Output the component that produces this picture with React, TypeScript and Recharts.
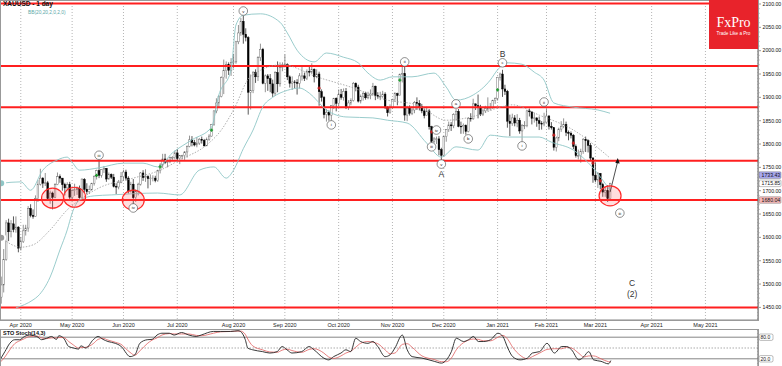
import React from 'react';
import { ComposedChart, Bar, Line, XAxis, YAxis, CartesianGrid, ReferenceLine, ReferenceDot } from 'recharts';

// XAUUSD daily, 20 Mar 2020 .. 9 Mar 2021 (one entry per trading day)
const opens = [
  1472, 1498, 1553, 1631, 1612, 1629, 1617, 1622,
  1577, 1591, 1614, 1620, 1662, 1647, 1645, 1683, 1714, 1727, 1716, 1717, 1683, 1695, 1686, 1713, 1730, 1727, 1713, 1706, 1713,
  1686, 1700, 1702, 1705, 1685, 1724, 1703, 1698, 1702, 1716, 1731, 1743, 1733, 1745, 1748, 1725, 1735, 1729, 1709, 1708, 1718,
  1730, 1740, 1727, 1699, 1714, 1685, 1698, 1714, 1738, 1728, 1730, 1726, 1727, 1727, 1722, 1743, 1755, 1768, 1761, 1763, 1771, 1771,
  1781, 1769, 1775, 1775, 1783, 1795, 1809, 1803, 1798, 1802, 1810, 1808, 1796, 1810, 1817, 1842, 1871, 1888, 1902, 1942, 1957, 1970, 1958,
  1975, 1976, 2019, 2038, 2063, 2035, 2028, 1911, 1915, 1954, 1944, 1985, 2003, 1930, 1946, 1940, 1929, 1909, 1953, 1929, 1964,
  1968, 1970, 1944, 1930, 1933, 1932, 1930, 1946, 1946, 1941, 1956, 1954, 1960, 1944, 1950, 1912, 1900, 1863, 1868, 1862, 1882, 1898,
  1887, 1906, 1900, 1913, 1878, 1888, 1893, 1930, 1922, 1892, 1902, 1908, 1899, 1904, 1907, 1924, 1904, 1902, 1902, 1907, 1878, 1867,
  1879, 1895, 1908, 1904, 1949, 1951, 1862, 1877, 1866, 1873, 1889, 1887, 1880, 1871, 1861, 1871, 1837, 1806, 1811, 1811, 1788,
  1776, 1816, 1831, 1841, 1839, 1863, 1870, 1838, 1837, 1840, 1827, 1855, 1854, 1886, 1882, 1879, 1864, 1871, 1876, 1876, 1877, 1893,
  1898, 1943, 1950, 1918, 1913, 1849, 1844, 1856, 1845, 1851, 1828, 1840, 1840, 1871, 1869, 1855, 1856, 1850, 1844, 1843,
  1847, 1860, 1838, 1835, 1793, 1813, 1832, 1838, 1842, 1825, 1823, 1819, 1795, 1775, 1775, 1784, 1810, 1807, 1797, 1770,
  1733, 1723, 1737, 1713, 1697, 1700, 1683,
];
const highs = [
  1516, 1575, 1637, 1640, 1637, 1645, 1645, 1624,
  1601, 1627, 1627, 1667, 1671, 1660, 1690, 1723, 1747, 1729, 1738, 1721, 1700, 1698, 1716, 1739, 1735, 1727, 1717, 1718, 1719,
  1702, 1715, 1709, 1711, 1726, 1727, 1716, 1711, 1717, 1733, 1745, 1765, 1746, 1753, 1748, 1739, 1737, 1736, 1716, 1723, 1740,
  1745, 1745, 1731, 1719, 1725, 1703, 1717, 1740, 1744, 1746, 1733, 1735, 1733, 1732, 1745, 1759, 1779, 1779, 1767, 1773, 1774, 1786,
  1789, 1776, 1777, 1785, 1797, 1818, 1817, 1809, 1815, 1813, 1816, 1811, 1814, 1821, 1843, 1872, 1898, 1905, 1945, 1981, 1977, 1975, 1984,
  1993, 2021, 2055, 2070, 2075, 2048, 2031, 1949, 1956, 1960, 1988, 2015, 2006, 1949, 1950, 1950, 1938, 1956, 1977, 1975, 1975,
  1992, 1973, 1947, 1945, 1937, 1939, 1952, 1965, 1953, 1960, 1966, 1973, 1962, 1960, 1955, 1917, 1903, 1875, 1872, 1883, 1899, 1900,
  1917, 1918, 1919, 1920, 1894, 1898, 1933, 1932, 1927, 1906, 1912, 1912, 1912, 1917, 1931, 1925, 1911, 1912, 1914, 1911, 1880, 1885,
  1897, 1911, 1910, 1951, 1966, 1966, 1882, 1883, 1881, 1892, 1900, 1894, 1886, 1876, 1880, 1875, 1839, 1815, 1816, 1817, 1792,
  1817, 1832, 1848, 1847, 1866, 1875, 1875, 1848, 1844, 1842, 1857, 1866, 1897, 1887, 1906, 1884, 1876, 1882, 1900, 1888, 1895, 1900,
  1944, 1953, 1959, 1927, 1916, 1863, 1865, 1862, 1864, 1856, 1843, 1849, 1873, 1876, 1870, 1867, 1857, 1859, 1849, 1867,
  1875, 1862, 1847, 1836, 1816, 1835, 1849, 1855, 1848, 1829, 1827, 1821, 1799, 1788, 1790, 1813, 1816, 1810, 1802, 1772,
  1760, 1740, 1738, 1717, 1710, 1712, 1717,
];
const lows = [
  1458, 1482, 1550, 1592, 1600, 1611, 1610, 1568,
  1572, 1588, 1604, 1612, 1643, 1640, 1644, 1676, 1711, 1706, 1710, 1681, 1672, 1660, 1684, 1712, 1717, 1700, 1690, 1701, 1680,
  1679, 1689, 1691, 1683, 1685, 1695, 1692, 1693, 1700, 1711, 1724, 1727, 1728, 1738, 1719, 1724, 1725, 1707, 1693, 1703, 1716,
  1721, 1722, 1694, 1696, 1670, 1676, 1690, 1711, 1721, 1719, 1705, 1712, 1720, 1718, 1719, 1737, 1749, 1757, 1750, 1759, 1766, 1767,
  1763, 1757, 1767, 1766, 1771, 1793, 1795, 1795, 1793, 1798, 1801, 1795, 1796, 1807, 1816, 1839, 1866, 1877, 1900, 1907, 1940, 1948, 1946,
  1962, 1972, 2014, 2032, 2015, 2020, 1863, 1874, 1909, 1931, 1935, 1978, 1928, 1911, 1914, 1911, 1901, 1903, 1911, 1923, 1956,
  1964, 1937, 1921, 1916, 1920, 1906, 1919, 1936, 1935, 1937, 1945, 1950, 1932, 1941, 1882, 1891, 1855, 1848, 1850, 1849, 1875, 1870,
  1882, 1895, 1893, 1875, 1873, 1883, 1891, 1913, 1889, 1887, 1893, 1895, 1896, 1896, 1904, 1894, 1897, 1894, 1899, 1875, 1859, 1865,
  1876, 1891, 1883, 1904, 1932, 1850, 1849, 1861, 1862, 1866, 1873, 1872, 1866, 1855, 1861, 1831, 1800, 1801, 1800, 1776, 1764,
  1773, 1805, 1826, 1828, 1834, 1850, 1836, 1822, 1822, 1820, 1825, 1848, 1852, 1873, 1855, 1860, 1860, 1867, 1870, 1872, 1876, 1886,
  1893, 1936, 1901, 1905, 1835, 1817, 1839, 1838, 1836, 1822, 1802, 1832, 1836, 1859, 1842, 1846, 1837, 1830, 1831, 1838,
  1846, 1831, 1831, 1786, 1784, 1806, 1826, 1834, 1817, 1808, 1812, 1789, 1771, 1767, 1760, 1779, 1783, 1782, 1765, 1717,
  1718, 1706, 1703, 1687, 1687, 1676, 1683,
];
const closes = [
  1498, 1553, 1631, 1612, 1629, 1617, 1622, 1577,
  1591, 1614, 1620, 1662, 1647, 1645, 1683, 1714, 1727, 1716, 1717, 1683, 1695, 1686, 1713, 1730, 1727, 1713, 1706, 1713, 1686,
  1700, 1702, 1705, 1685, 1725, 1703, 1698, 1702, 1716, 1731, 1743, 1733, 1745, 1748, 1725, 1735, 1729, 1709, 1708, 1718, 1730,
  1740, 1727, 1699, 1714, 1685, 1698, 1714, 1738, 1728, 1730, 1726, 1727, 1727, 1722, 1743, 1755, 1768, 1761, 1763, 1771, 1771, 1781,
  1769, 1775, 1775, 1783, 1795, 1809, 1803, 1798, 1802, 1810, 1808, 1796, 1810, 1817, 1842, 1871, 1888, 1902, 1942, 1957, 1970, 1958, 1975,
  1976, 2019, 2038, 2063, 2035, 2028, 1911, 1915, 1954, 1944, 1985, 2003, 1930, 1946, 1940, 1929, 1909, 1953, 1929, 1964, 1968,
  1970, 1944, 1930, 1933, 1932, 1930, 1946, 1946, 1941, 1956, 1954, 1960, 1944, 1950, 1912, 1900, 1863, 1868, 1862, 1882, 1898, 1887,
  1906, 1900, 1913, 1878, 1888, 1893, 1930, 1922, 1892, 1902, 1908, 1899, 1904, 1907, 1924, 1904, 1902, 1902, 1907, 1878, 1867, 1879,
  1895, 1908, 1904, 1949, 1951, 1862, 1877, 1866, 1873, 1889, 1887, 1880, 1871, 1861, 1871, 1837, 1806, 1811, 1811, 1788, 1776,
  1816, 1831, 1841, 1839, 1863, 1870, 1838, 1837, 1840, 1827, 1855, 1854, 1886, 1882, 1879, 1864, 1871, 1876, 1876, 1877, 1893, 1898,
  1943, 1950, 1918, 1913, 1849, 1844, 1856, 1845, 1851, 1828, 1840, 1840, 1871, 1869, 1855, 1856, 1850, 1844, 1843, 1847,
  1860, 1838, 1835, 1793, 1813, 1832, 1838, 1842, 1825, 1823, 1819, 1795, 1775, 1775, 1784, 1810, 1807, 1797, 1770, 1733,
  1723, 1737, 1713, 1697, 1700, 1683, 1716,
];

// bar slots on the time axis (data + empty future days)
const SLOTS = 310;
const monthBars = [8, 29, 50, 72, 95, 116, 138, 160, 181, 203, 223, 243, 266, 288];
const monthLabels = ['Apr 2020', 'May 2020', 'Jun 2020', 'Jul 2020', 'Aug 2020', 'Sep 2020', 'Oct 2020', 'Nov 2020', 'Dec 2020', 'Jan 2021', 'Feb 2021', 'Mar 2021', 'Apr 2021', 'May 2021'];
const priceLabels = [1450, 1500, 1550, 1600, 1650, 1700, 1750, 1800, 1850, 1900, 1950, 2000, 2050, 2100];

// Bollinger bands at sparse bars
const bbUpBars = [0, 8, 12, 17, 23, 27, 29, 32, 40, 50, 58, 64, 70, 78, 86, 89, 94, 96, 99, 106, 114, 117, 121, 128, 133, 140, 146, 150, 155, 160, 168, 177, 182, 186, 193, 200, 203, 207, 213, 218, 222, 226, 234, 244, 249];
const bbUp = [1716, 1719, 1701, 1744, 1766, 1772, 1761, 1744, 1749, 1759, 1759, 1751, 1781, 1809, 1836, 1905, 1959, 2055, 2076, 2079, 2061, 2038, 2001, 1976, 1995, 1986, 1974, 1952, 1937, 1944, 1944, 1952, 1922, 1894, 1905, 1937, 1959, 1974, 1971, 1954, 1937, 1888, 1879, 1873, 1866];
const bbMidBars = [0, 8, 13, 20, 27, 32, 40, 54, 65, 73, 84, 90, 95, 102, 115, 129, 143, 158, 170, 182, 195, 204, 209, 220, 234, 249];
const bbMid = [1599, 1579, 1584, 1616, 1659, 1680, 1706, 1727, 1744, 1766, 1798, 1830, 1873, 1945, 1970, 1944, 1922, 1894, 1884, 1851, 1862, 1879, 1884, 1862, 1830, 1770];
const bbLowBars = [6, 13, 15, 20, 24, 27, 29, 32, 38, 45, 64, 73, 81, 87, 92, 95, 99, 103, 107, 111, 117, 122, 126, 133, 141, 152, 158, 166, 174, 180, 186, 195, 200, 207, 220, 225, 234, 242, 249];
const bbLow = [1449, 1466, 1474, 1515, 1573, 1616, 1652, 1680, 1689, 1691, 1695, 1691, 1744, 1751, 1727, 1744, 1790, 1830, 1880, 1900, 1915, 1920, 1909, 1873, 1858, 1856, 1851, 1845, 1802, 1772, 1794, 1787, 1819, 1815, 1815, 1804, 1787, 1749, 1701];

// Stochastic %K / %D
const stochBars = [0, 2, 4, 6, 8, 10, 12, 15, 17, 19, 21, 23, 24, 26, 28, 30, 32, 33, 35, 38, 40, 42, 44, 47, 50, 51, 53, 55, 57, 60, 62, 64, 66, 69, 71, 74, 77, 80, 82, 87, 90, 94, 97, 98, 100, 101, 103, 107, 110, 113, 115, 117, 119, 123, 126, 128, 132, 134, 136, 139, 141, 143, 145, 147, 150, 152, 154, 157, 159, 161, 164, 166, 168, 172, 177, 180, 182, 184, 186, 189, 191, 193, 195, 197, 200, 203, 205, 207, 209, 212, 215, 217, 220, 223, 226, 229, 231, 233, 236, 238, 240, 242, 245, 248, 249];
const stochK = [17, 40, 63, 73, 73, 82, 86, 82, 73, 77, 82, 74, 84, 77, 54, 50, 47, 56, 50, 73, 82, 74, 68, 63, 50, 40, 26, 31, 63, 73, 74, 86, 91, 91, 86, 93, 86, 82, 86, 96, 96, 96, 98, 96, 73, 50, 45, 40, 36, 40, 54, 45, 36, 40, 54, 45, 22, 17, 26, 36, 45, 40, 77, 68, 63, 68, 54, 26, 31, 50, 86, 45, 26, 22, 13, 8, 17, 40, 77, 68, 73, 82, 68, 68, 73, 91, 82, 50, 26, 17, 22, 36, 40, 63, 36, 54, 54, 45, 17, 26, 40, 17, 13, 6, 15];
const stochD = [10, 25, 45, 62, 70, 76, 82, 83, 78, 76, 78, 78, 79, 79, 68, 58, 50, 51, 52, 62, 74, 77, 72, 66, 57, 50, 38, 30, 42, 62, 72, 78, 86, 90, 89, 89, 89, 85, 84, 91, 95, 96, 97, 97, 88, 75, 56, 45, 39, 38, 44, 47, 43, 38, 46, 48, 36, 25, 21, 28, 36, 41, 52, 63, 68, 66, 62, 45, 34, 36, 60, 62, 52, 28, 18, 12, 12, 22, 45, 65, 72, 75, 74, 70, 70, 80, 85, 74, 52, 30, 20, 26, 36, 46, 48, 48, 52, 50, 35, 25, 28, 28, 20, 12, 11];

// support / resistance levels
const levels = [2101, 1967, 1879, 1764, 1680, 1450];

// highlighted reaction zones
const zoneBars = [21, 30, 54, 249];
const zonePrices = [1684, 1686, 1680, 1689];

// wave counts
const waveTexts = ['iii', 'iv', 'v', 'i', 'ii', 'iii', 'iv', 'v', 'a', 'b', 'c', 'i', 'ii', 'iii'];
const waveBars = [40, 54, 99, 135, 165, 176, 178, 180, 186, 191, 205, 213, 222, 253];
const wavePrices = [1776, 1663, 2085, 1841, 1976, 1794, 1830, 1757, 1886, 1811, 1974, 1796, 1890, 1652];
const letterTexts = ['A', 'B', 'C', '(2)'];
const letterBars = [180, 205, 258, 258];
const letterPrices = [1736, 1993, 1502, 1479];

// small signal marks
const buyBars = [39, 65, 86, 163, 203];
const buyPrices = [1733, 1751, 1830, 1937, 1916];
const sellBars = [130, 158, 176, 226, 234, 242, 245];
const sellPrices = [1920, 1877, 1826, 1819, 1802, 1759, 1721];

const FONT = '"Liberation Sans", Arial, sans-serif';

type Row = { [k: string]: any };
const rows: Row[] = [];
for (let i = 0; i < SLOTS; i++) {
  const has = i < closes.length;
  rows.push({
    i,
    range: has ? [lows[i], highs[i]] : null,
    open: opens[i], high: highs[i], low: lows[i], close: closes[i],
  });
}
bbUpBars.forEach((b, j) => { rows[b].bbUp = bbUp[j]; });
bbMidBars.forEach((b, j) => { rows[b].bbMid = bbMid[j]; });
bbLowBars.forEach((b, j) => { rows[b].bbLow = bbLow[j]; });
stochBars.forEach((b, j) => { rows[b].k = stochK[j]; rows[b].d = stochD[j]; });

const Candle = (props: any) => {
  const { x, y, width, height, payload } = props;
  if (!payload || payload.range == null) return <g />;
  const top = Math.min(y, y + height);
  const h = Math.abs(height);
  const { open, high, low, close } = payload;
  const k = high > low ? h / (high - low) : 0;
  const cx = x + width / 2;
  const yo = top + (high - open) * k;
  const yc = top + (high - close) * k;
  const up = close >= open;
  const bw = 1.7;
  return (
    <g>
      <line x1={cx} x2={cx} y1={top} y2={top + h} stroke={up ? '#666' : '#111'} strokeWidth={0.7} />
      <rect x={cx - bw / 2} y={Math.min(yo, yc)} width={bw} height={Math.max(Math.abs(yc - yo), 0.6)}
        fill={up ? '#fff' : '#000'} stroke={up ? '#666' : '#000'} strokeWidth={0.45} />
    </g>
  );
};

const DateTick = (props: any) => {
  const { x, y, payload } = props;
  const j = monthBars.indexOf(payload.value);
  return (
    <text x={x} y={y + 7} fontSize={5.5} textAnchor="middle" fill="#222" fontFamily={FONT}>
      {j >= 0 ? monthLabels[j] : ''}
    </text>
  );
};

const priceTicks: number[] = [];
priceLabels.forEach((p) => { for (let s = 0; s < 50; s += 10) priceTicks.push(p + s); });

const PriceTick = (props: any) => {
  const { x, y, payload } = props;
  const v = payload.value;
  const major = priceLabels.includes(v);
  return (
    <g>
      <line x1={x} x2={x + (major ? 3 : 1.5)} y1={y} y2={y} stroke="#555" strokeWidth={0.6} />
      {major && (
        <text x={x + 4.5} y={y + 1.8} fontSize={5.2} fill="#111" fontFamily={FONT}>{v.toFixed(2)}</text>
      )}
    </g>
  );
};

const tag = (text: string, bg: string, fg: string) => (props: any) => {
  const vb = props.viewBox || {};
  const x = (vb.x || 0) + (vb.width || 0) + 1;
  const y = vb.y || 0;
  return (
    <g>
      <rect x={x} y={y - 3.3} width={22} height={6.6} fill={bg} stroke="#666" strokeWidth={0.4} rx={1} />
      <text x={x + 2.5} y={y + 1.9} fontSize={5.2} fill={fg} fontFamily={FONT}>{text}</text>
    </g>
  );
};

const waveShape = (text: string) => (p: any) => (
  <g>
    <circle cx={p.cx} cy={p.cy} r={4.3} fill="#fff" stroke="#444" strokeWidth={0.6} />
    <text x={p.cx} y={p.cy + 1.5} fontSize={4.3} textAnchor="middle" fill="#222" fontFamily={FONT}>{text}</text>
  </g>
);

const letterShape = (text: string) => (p: any) => (
  <text x={p.cx} y={p.cy + 3} fontSize={8.5} textAnchor="middle" fill="#333" fontFamily={FONT}>{text}</text>
);

const zoneShape = (p: any) => (
  <ellipse cx={p.cx} cy={p.cy} rx={11} ry={10} fill="rgba(255,70,70,0.18)" stroke="#ff2a2a" strokeWidth={1.2} />
);

const buyShape = (p: any) => (
  <path d={`M${p.cx - 1.6},${p.cy}h3.2M${p.cx},${p.cy - 1.6}v3.2`} stroke="#1c9c2c" strokeWidth={1.3} />
);
const sellShape = (p: any) => (
  <path d={`M${p.cx - 1.6},${p.cy}h3.2M${p.cx},${p.cy - 1.6}v3.2`} stroke="#c82020" strokeWidth={1.3} />
);

const arrowHead = (p: any) => (
  <polygon points={`${p.cx + 0.4},${p.cy - 3.2} ${p.cx - 2.1},${p.cy + 1.6} ${p.cx + 2.3},${p.cy + 2.2}`} fill="#111" />
);

const StochTick = (props: any) => {
  const { x, y, payload } = props;
  return (
    <g>
      <rect x={x + 1} y={y - 3.2} width={14} height={6.4} fill="#fff" stroke="#555" strokeWidth={0.4} rx={1.5} />
      <text x={x + 2.5} y={y + 1.9} fontSize={5} fill="#111" fontFamily={FONT}>{payload.value.toFixed(1)}</text>
    </g>
  );
};

export default function App() {
  return (
    <div style={{ position: 'absolute', left: 0, top: 0, width: 782, height: 366, background: '#fff', overflow: 'hidden', fontFamily: FONT }}>
      <div style={{ position: 'absolute', left: 0, top: 0 }}>
        <ComposedChart width={782} height={330} data={rows} margin={{ top: 0, right: 0, bottom: 0, left: 0 }} barCategoryGap="10%">
          <CartesianGrid horizontal={false} stroke="#b5b5b5" strokeDasharray="1 2" />
          <XAxis dataKey="i" type="category" ticks={monthBars} interval={0} tickLine={false} tickSize={0} tickMargin={0}
            height={10} axisLine={{ stroke: '#888' }} tick={<DateTick />} />
          <YAxis orientation="right" width={24} type="number" domain={[1423, 2108.6]} allowDataOverflow
            ticks={priceTicks} interval={0} tickLine={false} tickSize={0} tickMargin={0} axisLine={{ stroke: '#666' }} tick={<PriceTick />} />
          {levels.map((p) => (
            <ReferenceLine key={p} y={p} stroke="#ff1f1f" strokeWidth={2} />
          ))}
          <Line dataKey="bbUp" type="monotone" stroke="#8fc6c6" strokeWidth={0.9} dot={false} connectNulls isAnimationActive={false} />
          <Line dataKey="bbLow" type="monotone" stroke="#8fc6c6" strokeWidth={0.9} dot={false} connectNulls isAnimationActive={false} />
          <Line dataKey="bbMid" type="monotone" stroke="#9a9a9a" strokeWidth={0.8} strokeDasharray="1.5 1.5" dot={false} connectNulls isAnimationActive={false} />
          <Bar dataKey="range" shape={<Candle />} isAnimationActive={false} />
          {zoneBars.map((b, j) => (
            <ReferenceDot key={'z' + j} x={b} y={zonePrices[j]} r={10} shape={zoneShape} />
          ))}
          {buyBars.map((b, j) => (
            <ReferenceDot key={'g' + j} x={b} y={buyPrices[j]} r={2} shape={buyShape} />
          ))}
          {sellBars.map((b, j) => (
            <ReferenceDot key={'s' + j} x={b} y={sellPrices[j]} r={2} shape={sellShape} />
          ))}
          {waveTexts.map((t, j) => (
            <ReferenceDot key={'w' + j} x={waveBars[j]} y={wavePrices[j]} r={4} shape={waveShape(t)} />
          ))}
          {letterTexts.map((t, j) => (
            <ReferenceDot key={'l' + j} x={letterBars[j]} y={letterPrices[j]} r={4} shape={letterShape(t)} />
          ))}
          <ReferenceLine segment={[{ x: 249, y: 1697 }, { x: 252, y: 1760 }]} stroke="#222" strokeWidth={0.8} />
          <ReferenceDot x={252} y={1763} r={3} shape={arrowHead} />
          <ReferenceLine y={1733.43} stroke="none" label={tag('1733.43', '#a8a8ee', '#111')} />
          <ReferenceLine y={1715.85} stroke="none" label={tag('1715.85', '#ffffff', '#111')} />
          <ReferenceLine y={1680.04} stroke="none" label={tag('1680.04', '#f4b8b8', '#111')} />
        </ComposedChart>
      </div>

      <div style={{ position: 'absolute', left: 0, top: 330 }}>
        <ComposedChart width={782} height={36} data={rows} margin={{ top: 0, right: 0, bottom: 0, left: 0 }}>
          <CartesianGrid horizontal={false} stroke="#b5b5b5" strokeDasharray="1 2" />
          <XAxis dataKey="i" type="category" ticks={monthBars} interval={0} height={0} tick={false} tickLine={false} axisLine={false} />
          <YAxis orientation="right" width={24} type="number" domain={[0, 100]} ticks={[80, 20]} interval={0}
            tickLine={false} tickSize={0} tickMargin={0} axisLine={{ stroke: '#666' }} tick={<StochTick />} />
          <ReferenceLine y={80} stroke="#666" strokeWidth={0.8} />
          <ReferenceLine y={50} stroke="#888" strokeWidth={0.7} strokeDasharray="1.5 1.5" />
          <ReferenceLine y={20} stroke="#666" strokeWidth={0.8} />
          <Line dataKey="d" type="monotone" stroke="#e06060" strokeWidth={0.8} dot={false} connectNulls isAnimationActive={false} />
          <Line dataKey="k" type="monotone" stroke="#222" strokeWidth={0.9} dot={false} connectNulls isAnimationActive={false} />
        </ComposedChart>
      </div>

      {/* panel frames */}
      <div style={{ position: 'absolute', left: 0, top: 0, width: 759, height: 321, boxSizing: 'border-box', border: '1px solid #999', pointerEvents: 'none' }} />
      <div style={{ position: 'absolute', left: 0, top: 329, width: 759, height: 40, boxSizing: 'border-box', border: '1px solid #999', pointerEvents: 'none' }} />

      {/* captions */}
      <div style={{ position: 'absolute', left: 3, top: 0, fontSize: 6.5, fontWeight: 'bold', color: '#111', lineHeight: '8px', whiteSpace: 'nowrap' }}>XAUUSD - 1 day</div>
      <div style={{ position: 'absolute', left: 28, top: 10, fontSize: 4.8, color: '#5aa8a8', lineHeight: '6px', whiteSpace: 'nowrap' }}>BB(20,20,2,0,2,0)</div>
      <div style={{ position: 'absolute', left: 3, top: 330, fontSize: 5.5, fontWeight: 'bold', color: '#111', lineHeight: '7px', whiteSpace: 'nowrap' }}>STO Stoch(14,3)</div>

      {/* logo */}
      <div style={{ position: 'absolute', left: 709, top: 0, width: 49, height: 49, background: '#e8232b', color: '#fff', textAlign: 'center' }}>
        <div style={{ fontFamily: '"Liberation Serif", "DejaVu Serif", serif', fontSize: 14, lineHeight: '14px', marginTop: 16 }}>FxPro</div>
        <div style={{ fontSize: 4.6, lineHeight: '6px', marginTop: 1, whiteSpace: 'nowrap' }}>Trade Like a Pro</div>
      </div>
    </div>
  );
}
